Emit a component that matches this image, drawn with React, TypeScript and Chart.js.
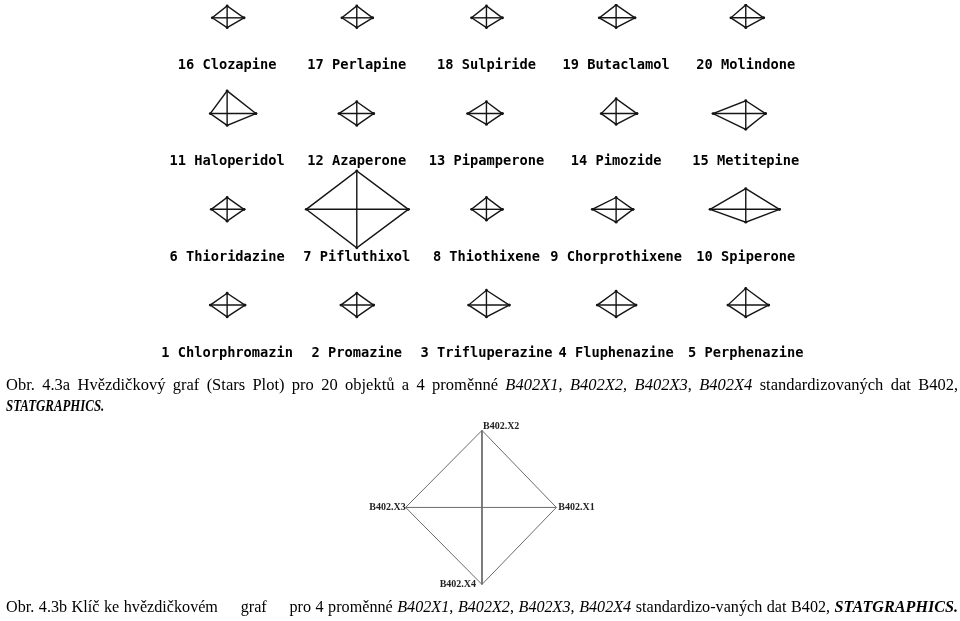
import React, { useEffect, useRef } from "react";
import { Chart, registerables } from "chart.js";

Chart.register(...registerables);

// ---- data: 20 objects, 4 standardized variables (ray lengths, chart units) ----
const names = [
  "Chlorphromazin", "Promazine", "Trifluperazine", "Fluphenazine", "Perphenazine",
  "Thioridazine", "Pifluthixol", "Thiothixene", "Chorprothixene", "Spiperone",
  "Haloperidol", "Azaperone", "Pipamperone", "Pimozide", "Metitepine",
  "Clozapine", "Perlapine", "Sulpiride", "Butaclamol", "Molindone",
];
// B402X1 -> right ray
const x1Values = [18, 17, 23, 20, 23, 17, 52, 16, 17, 34, 29, 17, 16, 21, 20, 17, 16, 16, 19, 18];
// B402X2 -> up ray
const x2Values = [12, 12, 15, 14, 17, 12, 39, 12, 12, 21, 23, 12, 12, 15, 13, 12, 12, 12, 13, 13];
// B402X3 -> left ray
const x3Values = [17, 16, 18, 19, 18, 16, 51, 15, 24, 36, 17, 18, 19, 15, 33, 15, 15, 15, 17, 15];
// B402X4 -> down ray
const x4Values = [12, 12, 12, 12, 12, 12, 39, 11, 13, 13, 12, 12, 11, 11, 16, 10, 10, 10, 10, 10];

// key star (Obr. 4.3b)
const keyLabels = ["B402.X1", "B402.X2", "B402.X3", "B402.X4"];
const keyValues = [75, 78, 77, 78];

// ---- layout (not data) ----
const W = 960;
const H = 621;
const COL0 = 225;
const COL_STEP = 130.75;
const ROW0 = 305;
const ROW_STEP = 97;
const LABEL_DY = 48.5;
const KEY_CX = 482;
const KEY_CY = 510;

function starCenter(i: number) {
  const col = i % 5;
  const row = Math.floor(i / 5);
  return { x: COL0 + col * COL_STEP, y: ROW0 - row * ROW_STEP };
}

function starDatasets(cx: number, cy: number, r: number, u: number, l: number, d: number, color: string, width: number, dots: number) {
  const right = { x: cx + r, y: cy };
  const up = { x: cx, y: cy - u };
  const left = { x: cx - l, y: cy };
  const down = { x: cx, y: cy + d };
  const base = {
    showLine: true,
    borderColor: color,
    backgroundColor: color,
    borderWidth: width,
    fill: false,
    tension: 0,
  };
  return [
    { ...base, data: [right, up, left, down, right], pointRadius: dots, pointBorderWidth: 0, pointBackgroundColor: color },
    { ...base, data: [left, right], pointRadius: 0 },
    { ...base, data: [up, down], pointRadius: 0 },
  ];
}

const labelPlugin = {
  id: "starLabels",
  afterDatasetsDraw(chart: any) {
    const ctx = chart.ctx as CanvasRenderingContext2D;
    const xs = chart.scales.x;
    const ys = chart.scales.y;
    ctx.save();
    ctx.fillStyle = "#000";
    ctx.font = "bold 13.7px 'DejaVu Sans Mono', 'Liberation Mono', monospace";
    ctx.textAlign = "center";
    ctx.textBaseline = "middle";
    names.forEach((n, i) => {
      const c = starCenter(i);
      ctx.fillText(`${i + 1} ${n}`, xs.getPixelForValue(c.x), ys.getPixelForValue(c.y + LABEL_DY));
    });
    // key labels
    ctx.font = "bold 10px 'Liberation Serif', 'Times New Roman', serif";
    ctx.fillStyle = "#222";
    const [r, u, l, d] = keyValues;
    ctx.textAlign = "left";
    ctx.fillText(keyLabels[0], xs.getPixelForValue(KEY_CX + r + 2), ys.getPixelForValue(KEY_CY));
    ctx.fillText(keyLabels[1], xs.getPixelForValue(KEY_CX + 1), ys.getPixelForValue(KEY_CY - u - 4));
    ctx.textAlign = "right";
    ctx.fillText(keyLabels[2], xs.getPixelForValue(KEY_CX - l), ys.getPixelForValue(KEY_CY));
    ctx.fillText(keyLabels[3], xs.getPixelForValue(KEY_CX - 6), ys.getPixelForValue(KEY_CY + d));
    ctx.restore();
  },
};

function captionStyle(scale: number, top: number): React.CSSProperties {
  return {
    position: "absolute",
    left: 6,
    top,
    width: 952 / scale,
    transform: `scaleX(${scale})`,
    transformOrigin: "0 0",
    fontFamily: "'Liberation Serif', 'Times New Roman', serif",
    fontSize: 17,
    lineHeight: "20px",
    color: "#000",
    textAlign: "justify",
    textAlignLast: "justify" as any,
  };
}

export default function App() {
  const ref = useRef<HTMLCanvasElement>(null);
  useEffect(() => {
    const datasets: any[] = [];
    names.forEach((_, i) => {
      const c = starCenter(i);
      datasets.push(...starDatasets(c.x, c.y, x1Values[i], x2Values[i], x3Values[i], x4Values[i], "#151515", 1.4, 1.4));
    });
    datasets.push(...starDatasets(KEY_CX, KEY_CY, keyValues[0], keyValues[1], keyValues[2], keyValues[3], "#6a6a6a", 1, 0));
    const chart = new Chart(ref.current!, {
      type: "scatter",
      data: { datasets },
      options: {
        animation: false,
        responsive: false,
        maintainAspectRatio: false,
        layout: { padding: 0 },
        plugins: { legend: { display: false }, tooltip: { enabled: false } },
        events: [],
        scales: {
          x: { type: "linear", min: 0, max: W, display: false },
          y: { type: "linear", min: 0, max: H, reverse: true, display: false },
        },
      },
      plugins: [labelPlugin],
    });
    return () => chart.destroy();
  }, []);

  return (
    <div style={{ position: "absolute", left: 0, top: 0, width: W, height: H, background: "#fff", overflow: "hidden" }}>
      <canvas ref={ref} width={W} height={H} style={{ position: "absolute", left: 0, top: 0, width: W, height: H }} />
      <div style={captionStyle(0.97, 375)}>
        Obr. 4.3a Hvězdičkový graf (Stars Plot) pro 20 objektů a 4 proměnné <i>B402X1</i>, <i>B402X2</i>, <i>B402X3</i>, <i>B402X4</i> standardizovaných dat B402,
      </div>
      <div style={{ ...captionStyle(0.97, 396), textAlign: "left", textAlignLast: "left" as any }}>
        <b><i style={{ display: "inline-block", transform: "scaleX(0.78)", transformOrigin: "0 0" }}>STATGRAPHICS.</i></b>
      </div>
      <div style={captionStyle(0.95, 597)}>
        Obr. 4.3b Klíč ke hvězdičkovém{"\u00a0\u00a0\u00a0\u00a0 "}graf{"\u00a0\u00a0\u00a0\u00a0 "}pro 4 proměnné <i>B402X1</i>, <i>B402X2</i>, <i>B402X3</i>, <i>B402X4</i> standardizo-vaných dat B402, <b><i>STATGRAPHICS.</i></b>
      </div>
    </div>
  );
}
